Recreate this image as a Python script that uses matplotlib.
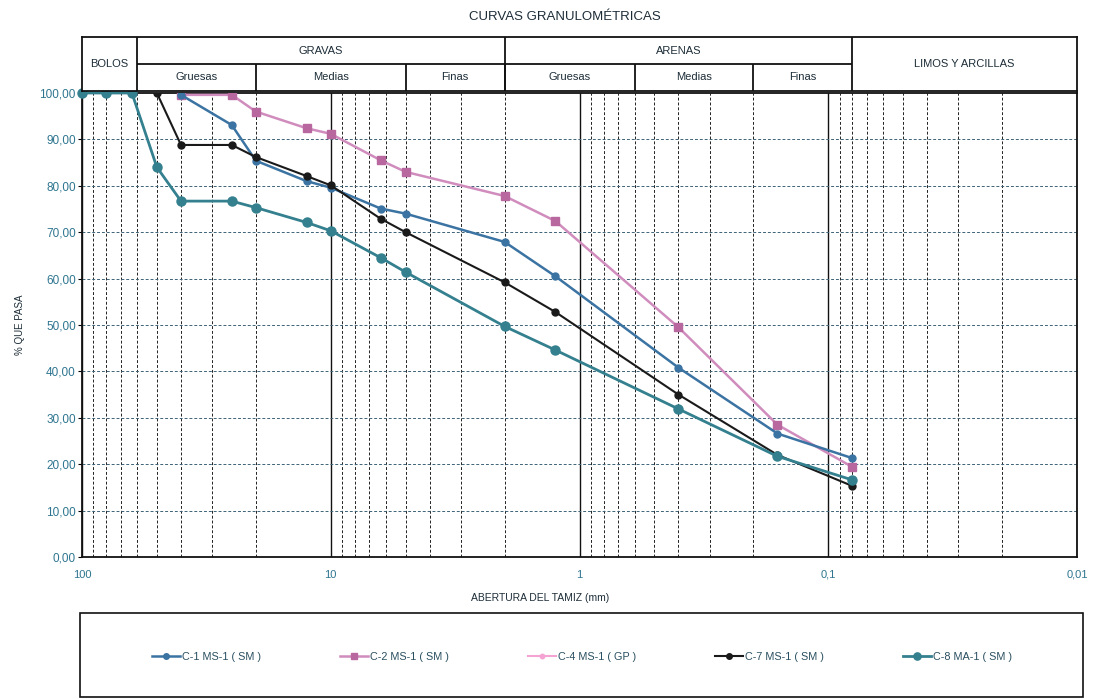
import matplotlib
matplotlib.use("Agg")
import matplotlib.pyplot as plt
from matplotlib.patches import Rectangle
from matplotlib.ticker import FixedLocator, NullFormatter

plt.rcParams['font.family'] = ['Liberation Sans', 'DejaVu Sans']

# sieve openings (mm), UNE series
c1_size = [40, 25, 20, 12.5, 10, 6.3, 5, 2, 1.25, 0.4, 0.16, 0.08]
c1_pass = [99.6, 93.1, 85.4, 81.0, 79.6, 75.1, 74.0, 67.9, 60.5, 40.8, 26.6, 21.3]

c2_size = [40, 25, 20, 12.5, 10, 6.3, 5, 2, 1.25, 0.4, 0.16, 0.08]
c2_pass = [99.6, 99.6, 96.0, 92.4, 91.2, 85.5, 83.0, 77.8, 72.4, 49.5, 28.5, 19.4]

c4_size = []
c4_pass = []

c7_size = [50, 40, 25, 20, 12.5, 10, 6.3, 5, 2, 1.25, 0.4, 0.16, 0.08]
c7_pass = [100.0, 88.8, 88.8, 86.2, 82.1, 80.1, 72.9, 70.0, 59.2, 52.8, 35.0, 22.0, 15.3]

c8_size = [100, 80, 63, 50, 40, 25, 20, 12.5, 10, 6.3, 5, 2, 1.25, 0.4, 0.16, 0.08]
c8_pass = [100.0, 100.0, 100.0, 84.0, 76.7, 76.7, 75.3, 72.1, 70.3, 64.5, 61.4, 49.7, 44.6, 31.9, 21.7, 16.6]

# header bands (mm)
main_bounds = [100, 60, 2, 0.08, 0.01]
main_names = ["BOLOS", "GRAVAS", "ARENAS", "LIMOS Y ARCILLAS"]
sub_bounds = [60, 20, 5, 2, 0.6, 0.2, 0.08]
sub_names = ["Gruesas", "Medias", "Finas", "Gruesas", "Medias", "Finas"]

y_ticks = [0, 10, 20, 30, 40, 50, 60, 70, 80, 90, 100]
x_ticks = [100, 10, 1, 0.1, 0.01]
x_tick_labels = ["100", "10", "1", "0,1", "0,01"]

teal_txt = '#2f7590'
dark_txt = '#1d2d38'

fig = plt.figure(figsize=(10.93, 6.99), dpi=100)
L, R = 82 / 1093, 1077 / 1093
ax = fig.add_axes([L, (699 - 557) / 699, R - L, (557 - 93) / 699])

# grid: minor log lines dashed, decades solid
minor = [m * 10.0 ** e for e in range(-2, 2) for m in range(2, 10)]
for v in minor:
    ax.axvline(v, color='#222222', lw=0.7, ls=(0, (3, 2)), zorder=1)
for v in x_ticks:
    ax.axvline(v, color='#111111', lw=1.0, zorder=1)
for v in y_ticks[1:-1]:
    ax.axhline(v, color='#3d6478', lw=0.7, ls=(0, (3, 2)), zorder=1)

ax.plot(c1_size, c1_pass, color='#3b73a2', lw=1.8, marker='o', ms=5, label='C-1 MS-1 ( SM )', zorder=4)
ax.plot(c2_size, c2_pass, color='#d08cbd', lw=1.8, marker='s', ms=6, mfc='#b8679f', mec='#b8679f',
        label='C-2 MS-1 ( SM )', zorder=3)
ax.plot(c4_size, c4_pass, color='#f5a3d2', lw=1.5, marker='o', ms=4, label='C-4 MS-1 ( GP )', zorder=3)
ax.plot(c7_size, c7_pass, color='#1a1a1a', lw=1.5, marker='o', ms=5, label='C-7 MS-1 ( SM )', zorder=5)
ax.plot(c8_size, c8_pass, color='#34808f', lw=2.0, marker='o', ms=6.5, label='C-8 MA-1 ( SM )', zorder=6,
        clip_on=False)

ax.set_xscale('log')
ax.set_xlim(100, 0.01)
ax.set_ylim(0, 100)
ax.xaxis.set_major_locator(FixedLocator(x_ticks))
ax.set_xticklabels(x_tick_labels)
ax.xaxis.set_minor_formatter(NullFormatter())
ax.tick_params(axis='x', which='minor', length=0)
ax.tick_params(axis='x', which='major', length=0, pad=9, labelsize=8, labelcolor=teal_txt)
ax.set_yticks(y_ticks)
ax.set_yticklabels(["{:.2f}".format(v).replace('.', ',') for v in y_ticks])
ax.tick_params(axis='y', length=3, direction='out', pad=1.5, labelsize=8.5, labelcolor=teal_txt)
for s in ax.spines.values():
    s.set_linewidth(1.3)
    s.set_color('#111111')

# header table above the chart
hx = fig.add_axes([L, (699 - 91) / 699, R - L, (91 - 37) / 699])
hx.set_xscale('log')
hx.set_xlim(100, 0.01)
hx.set_ylim(0, 2)
hx.set_xticks([])
hx.set_yticks([])
hx.minorticks_off()
for s in hx.spines.values():
    s.set_linewidth(1.3)
    s.set_color('#111111')
for b in main_bounds[1:-1]:
    hx.axvline(b, color='#111111', lw=1.3)
hx.hlines(1, main_bounds[1], main_bounds[3], color='#111111', lw=1.3)
for b in sub_bounds[1:-1]:
    hx.vlines(b, 0, 1, color='#111111', lw=1.3)
for i, name in enumerate(main_names):
    xc = (main_bounds[i] * main_bounds[i + 1]) ** 0.5
    yc = 1.5 if name in ("GRAVAS", "ARENAS") else 1.0
    hx.text(xc, yc, name, ha='center', va='center', fontsize=8, color=dark_txt)
for i, name in enumerate(sub_names):
    xc = (sub_bounds[i] * sub_bounds[i + 1]) ** 0.5
    hx.text(xc, 0.5, name, ha='center', va='center', fontsize=8, color=dark_txt)

fig.text(565 / 1093, 1 - 17 / 699, "CURVAS GRANULOMÉTRICAS", ha='center', va='center', fontsize=9.5,
         color=dark_txt)
fig.text(20 / 1093, 1 - 325 / 699, "% QUE PASA", rotation=90, ha='center', va='center', fontsize=7,
         color=dark_txt)
fig.text(540 / 1093, 1 - 598 / 699, "ABERTURA DEL TAMIZ (mm)", ha='center', va='center', fontsize=7.5,
         color=dark_txt)

# legend box
fig.patches.append(Rectangle((80 / 1093, 2 / 699), 1003 / 1093, 84 / 699, transform=fig.transFigure,
                             fill=False, edgecolor='#111111', lw=1.2))
handles, labels = ax.get_legend_handles_labels()
leg = fig.legend(handles, labels, loc='center', ncol=5, mode='expand', frameon=False,
                 bbox_to_anchor=(142 / 1093, 1 - 657 / 699 - 0.02, 880 / 1093, 0.04),
                 fontsize=7.8, handlelength=2.6, handletextpad=0.2, markerscale=0.8)
for t in leg.get_texts():
    t.set_color('#2a4f60')

fig.savefig("out.png", dpi=100)
